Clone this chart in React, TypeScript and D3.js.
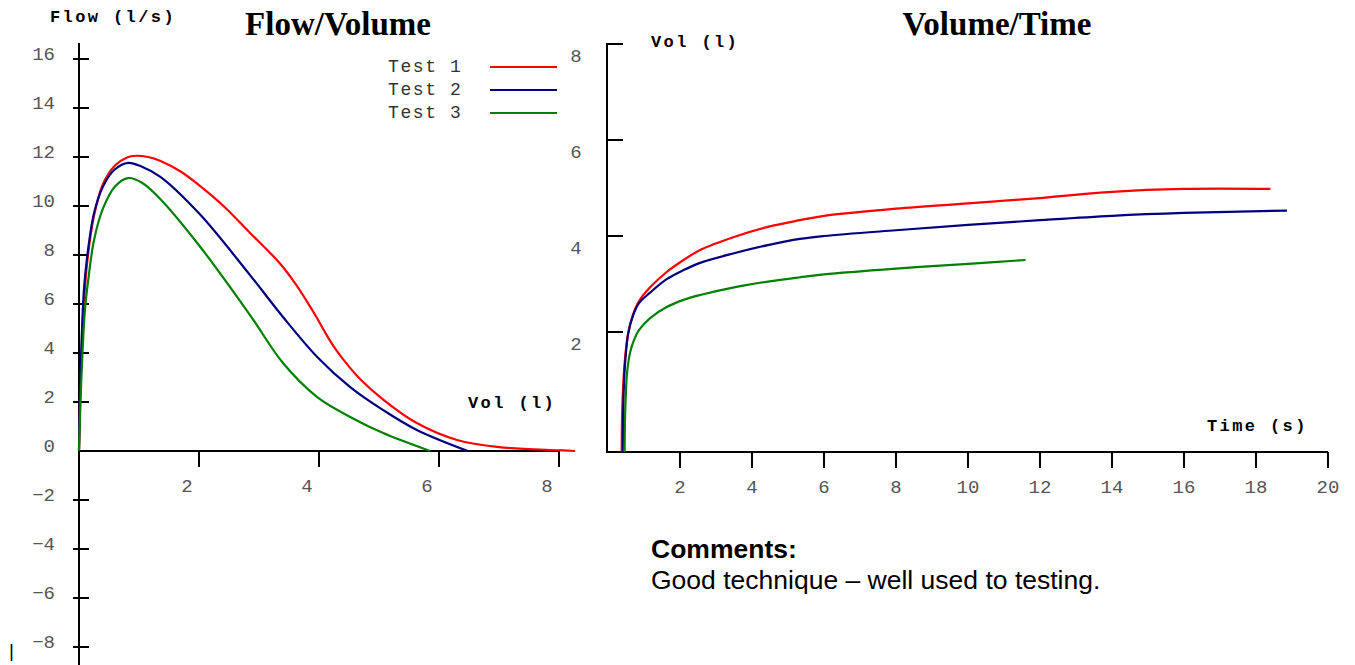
import React from "react";
import * as d3 from "d3";

// ---------- Data ----------
const seriesNames = ["Test 1", "Test 2", "Test 3"];
const seriesColors = ["#ff0000", "#000080", "#008000"];

// Flow / Volume curves: [volume (l), flow (l/s)]
const fvTest1: [number, number][] = [
  [0, 0], [0.03, 3], [0.08, 6], [0.15, 8], [0.25, 9.6], [0.4, 10.9], [0.6, 11.65],
  [0.8, 11.98], [0.95, 12.05], [1.15, 12.0], [1.35, 11.85], [1.7, 11.4], [2.0, 10.85],
  [2.43, 9.95], [2.85, 8.9], [3.1, 8.3], [3.35, 7.65], [3.6, 6.85], [3.8, 6.1],
  [3.95, 5.5], [4.1, 4.85], [4.25, 4.25], [4.4, 3.75], [4.68, 2.95], [5.07, 2.1],
  [5.63, 1.14], [6.3, 0.45], [7.0, 0.16], [8.0, 0.03], [8.27, 0],
];
const fvTest2: [number, number][] = [
  [0, 0], [0.03, 3.5], [0.08, 6.5], [0.13, 7.8], [0.25, 9.7], [0.4, 10.8], [0.6, 11.5],
  [0.82, 11.76], [1.05, 11.6], [1.35, 11.2], [2.0, 9.7], [2.85, 7.18], [3.4, 5.47],
  [3.97, 3.84], [4.52, 2.61], [5.07, 1.67], [5.63, 0.86], [6.48, 0],
];
const fvTest3: [number, number][] = [
  [0, 0], [0.04, 3], [0.1, 5.8], [0.15, 6.9], [0.25, 8.6], [0.4, 9.9], [0.6, 10.8],
  [0.82, 11.14], [1.05, 10.95], [1.35, 10.3], [2.0, 8.4], [2.85, 5.55], [3.4, 3.59],
  [3.97, 2.2], [4.52, 1.39], [5.07, 0.73], [5.85, 0],
];

// Volume / Time curves: [time (s), volume (l)]
const vtTest1: [number, number][] = [
  [0.38, -0.5], [0.39, 0.2], [0.42, 0.85], [0.47, 1.42], [0.56, 1.98], [0.69, 2.35],
  [0.86, 2.64], [1.17, 2.93], [1.63, 3.25], [2.1, 3.5], [2.56, 3.71], [3.5, 3.98],
  [4.44, 4.19], [5.33, 4.33], [6, 4.42], [8, 4.57], [10, 4.68], [12, 4.79],
  [14, 4.92], [16, 4.98], [18.4, 4.98],
];
const vtTest2: [number, number][] = [
  [0.41, -0.5], [0.42, 0.2], [0.44, 0.85], [0.48, 1.4], [0.56, 1.96], [0.69, 2.33],
  [0.86, 2.6], [1.17, 2.82], [1.63, 3.1], [2.1, 3.29], [2.56, 3.44], [3.5, 3.64],
  [4.44, 3.81], [5.33, 3.94], [6, 4.0], [8, 4.12], [10, 4.23], [12, 4.33],
  [14, 4.42], [16, 4.48], [18.86, 4.53],
];
const vtTest3: [number, number][] = [
  [0.46, -0.5], [0.47, 0.1], [0.49, 0.6], [0.53, 1.15], [0.61, 1.56], [0.69, 1.77],
  [0.86, 2.04], [1.17, 2.29], [1.63, 2.52], [2.1, 2.67], [2.56, 2.77], [3.5, 2.93],
  [4.44, 3.05], [5.33, 3.14], [6, 3.2], [8, 3.32], [10, 3.42], [11.6, 3.5],
];

const fvYTicks = [-8, -6, -4, -2, 2, 4, 6, 8, 10, 12, 14, 16];
const fvYLabels = [-8, -6, -4, -2, 0, 2, 4, 6, 8, 10, 12, 14, 16];
const fvXTicks = [2, 4, 6, 8];
const vtYTicks = [2, 4, 6, 8];
const vtXTicks = [2, 4, 6, 8, 10, 12, 14, 16, 18, 20];

const MONO = "'Liberation Mono', 'DejaVu Sans Mono', monospace";
const SERIF = "'Liberation Serif', serif";
const SANS = "'Liberation Sans', Arial, sans-serif";

const fmt = (v: number) => (v < 0 ? "\u2212" + Math.abs(v) : String(v));

export default function App() {
  // Flow/Volume scales
  const fvX = d3.scaleLinear().domain([0, 8]).range([79, 559]);
  const fvY = d3.scaleLinear().domain([-8, 16]).range([647, 59]);
  // Volume/Time scales
  const vtX = d3.scaleLinear().domain([0, 20]).range([608, 1328]);
  const vtY = d3.scaleLinear().domain([-0.5, 8]).range([452, 44]);

  const fvLine = d3
    .line<[number, number]>()
    .x((d) => fvX(d[0]))
    .y((d) => fvY(d[1]))
    .curve(d3.curveCatmullRom.alpha(0.5));
  const vtLine = d3
    .line<[number, number]>()
    .x((d) => vtX(d[0]))
    .y((d) => vtY(d[1]))
    .curve(d3.curveCatmullRom.alpha(0.5));

  const fvData = [fvTest1, fvTest2, fvTest3];
  const vtData = [vtTest1, vtTest2, vtTest3];
  const y0 = fvY(0);
  const tickFont = 19;

  return (
    <svg
      width={1355}
      height={665}
      style={{ position: "absolute", left: 0, top: 0, display: "block", background: "#fff" }}
    >
      {/* Titles */}
      <text x={338} y={35} textAnchor="middle" fontFamily={SERIF} fontWeight="bold" fontSize={33}>
        Flow/Volume
      </text>
      <text x={997} y={35} textAnchor="middle" fontFamily={SERIF} fontWeight="bold" fontSize={33}>
        Volume/Time
      </text>

      {/* ---------- Flow/Volume ---------- */}
      <text x={50} y={22} fontFamily={MONO} fontWeight="bold" fontSize={17} letterSpacing={2.4}>
        Flow (l/s)
      </text>
      <text x={468} y={408} fontFamily={MONO} fontWeight="bold" fontSize={17} letterSpacing={2.4}>
        Vol (l)
      </text>
      <line x1={79} x2={79} y1={43} y2={665} stroke="#000" strokeWidth={2} />
      <line x1={79} x2={fvX(8)} y1={y0} y2={y0} stroke="#000" strokeWidth={2} />
      {fvYTicks.map((v) => (
        <line key={"fyt" + v} x1={73} x2={89} y1={fvY(v)} y2={fvY(v)} stroke="#000" strokeWidth={2} />
      ))}
      {fvYLabels.map((v) => (
        <text
          key={"fyl" + v}
          x={55}
          y={fvY(v) - 4}
          textAnchor="end"
          dominantBaseline="central"
          fontFamily={MONO}
          fontSize={tickFont}
          fill="#555"
        >
          {fmt(v)}
        </text>
      ))}
      {fvXTicks.map((v) => (
        <line key={"fxt" + v} x1={fvX(v)} x2={fvX(v)} y1={y0} y2={y0 + 16} stroke="#000" strokeWidth={2} />
      ))}
      {fvXTicks.map((v) => (
        <text
          key={"fxl" + v}
          x={fvX(v) - 12}
          y={487}
          textAnchor="middle"
          dominantBaseline="central"
          fontFamily={MONO}
          fontSize={tickFont}
          fill="#555"
        >
          {v}
        </text>
      ))}
      {fvData.map((d, i) => (
        <path key={"fv" + i} d={fvLine(d) || ""} fill="none" stroke={seriesColors[i]} strokeWidth={2.2} />
      ))}
      <text x={9} y={657} fontFamily={SANS} fontSize={19} fill="#000">
        |
      </text>

      {/* Legend */}
      {seriesNames.map((n, i) => (
        <g key={"lg" + i}>
          <text
            x={388}
            y={67 + i * 23}
            dominantBaseline="central"
            fontFamily={MONO}
            fontSize={18}
            letterSpacing={1.6}
            fill="#333"
          >
            {n}
          </text>
          <line x1={490} x2={557} y1={67 + i * 23} y2={67 + i * 23} stroke={seriesColors[i]} strokeWidth={2.2} />
        </g>
      ))}

      {/* ---------- Volume/Time ---------- */}
      <text x={651} y={47} fontFamily={MONO} fontWeight="bold" fontSize={17} letterSpacing={2.4}>
        Vol (l)
      </text>
      <text x={1207} y={431} fontFamily={MONO} fontWeight="bold" fontSize={17} letterSpacing={2.4}>
        Time (s)
      </text>
      <line x1={607} x2={607} y1={vtY(8) - 1} y2={vtY(-0.5) + 1} stroke="#000" strokeWidth={2} />
      <line x1={606} x2={vtX(20)} y1={vtY(-0.5)} y2={vtY(-0.5)} stroke="#000" strokeWidth={2} />
      {vtYTicks.map((v) => (
        <line key={"vyt" + v} x1={607} x2={623} y1={vtY(v)} y2={vtY(v)} stroke="#000" strokeWidth={2} />
      ))}
      {vtYTicks.map((v) => (
        <text
          key={"vyl" + v}
          x={576}
          y={vtY(v) + 13}
          textAnchor="middle"
          dominantBaseline="central"
          fontFamily={MONO}
          fontSize={tickFont}
          fill="#555"
        >
          {v}
        </text>
      ))}
      {vtXTicks.map((v) => (
        <line
          key={"vxt" + v}
          x1={vtX(v)}
          x2={vtX(v)}
          y1={vtY(-0.5)}
          y2={vtY(-0.5) + 16}
          stroke="#000"
          strokeWidth={2}
        />
      ))}
      {vtXTicks.map((v) => (
        <text
          key={"vxl" + v}
          x={vtX(v)}
          y={488}
          textAnchor="middle"
          dominantBaseline="central"
          fontFamily={MONO}
          fontSize={tickFont}
          fill="#555"
        >
          {v}
        </text>
      ))}
      {vtData.map((d, i) => (
        <path key={"vt" + i} d={vtLine(d) || ""} fill="none" stroke={seriesColors[i]} strokeWidth={2.2} />
      ))}

      {/* Comments */}
      <text x={651} y={558} fontFamily={SANS} fontWeight="bold" fontSize={26.5}>
        Comments:
      </text>
      <text x={651} y={589} fontFamily={SANS} fontSize={26.5}>
        Good technique – well used to testing.
      </text>
    </svg>
  );
}
